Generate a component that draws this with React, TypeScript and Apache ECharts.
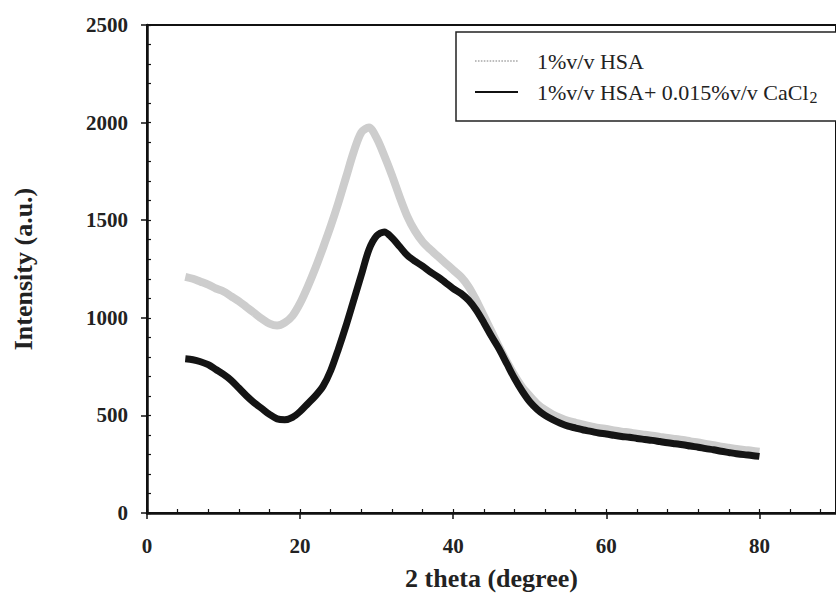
import React, { useEffect, useRef } from "react";
import * as echarts from "echarts";

const twoTheta = [
  5, 6, 7, 8, 9, 10, 11, 12, 13, 14, 15, 16, 17, 18, 19, 20, 21, 22, 23, 24, 25, 26, 27, 28, 29, 30,
  31, 32, 33, 34, 35, 36, 37, 38, 39, 40, 41, 42, 43, 44, 45, 46, 47, 48, 49, 50, 51, 52, 53, 54, 55,
  56, 57, 58, 59, 60, 61, 62, 63, 64, 65, 66, 67, 68, 69, 70, 71, 72, 73, 74, 75, 76, 77, 78, 79, 80,
];

const hsa = [
  1210, 1200, 1185, 1170, 1150, 1135, 1110, 1085, 1055, 1025, 995, 970, 960, 975, 1010, 1075, 1160,
  1255, 1360, 1470, 1590, 1720, 1850, 1950, 1975, 1920, 1830, 1730, 1620, 1520, 1445, 1390, 1350,
  1315, 1280, 1245, 1210, 1160, 1090, 1010, 930, 850, 775, 705, 645, 600, 558, 528, 505, 487, 472,
  462, 452, 444, 436, 430, 423, 417, 412, 406, 401, 396, 390, 384, 379, 374, 367, 361, 354, 348, 340,
  334, 328, 323, 319, 314,
];

const hsaCaCl2 = [
  790, 785, 775, 760, 735, 710, 680, 640, 600, 565, 535, 505, 482, 478, 490, 520, 560, 600, 650, 730,
  840, 960, 1090, 1220, 1350, 1420, 1440, 1410, 1365, 1320, 1290, 1265, 1235, 1210, 1180, 1150, 1125,
  1090, 1040, 975, 905, 840, 765, 690, 625, 570, 530, 500, 478, 460, 445, 435, 425, 418, 410, 405,
  398, 392, 388, 382, 377, 372, 366, 360, 355, 350, 343, 337, 330, 324, 316, 310, 304, 299, 295, 290,
];

const seriesNames = ["1%v/v HSA", "1%v/v HSA+ 0.015%v/v CaCl2"];
const xAxisTitle = "2 theta (degree)";
const yAxisTitle = "Intensity (a.u.)";

const FONT = "'Liberation Serif', 'Times New Roman', serif";

const dottedIcon =
  "path://" +
  Array.from({ length: 15 }, (_, i) => `M${i * 3},0h1.6v2h-1.6z`).join(" ") +
  " M44,0h0.01v2h-0.01z";
const solidIcon = "path://M0,0h44v2h-44z";

export default function App() {
  const ref = useRef<HTMLDivElement>(null);
  useEffect(() => {
    if (!ref.current) return;
    const chart = echarts.init(ref.current, undefined, { renderer: "svg" });
    const pair = (ys: number[]) => twoTheta.map((x, i) => [x, ys[i]]);
    chart.setOption({
      animation: false,
      backgroundColor: "#ffffff",
      grid: {
        left: 147,
        top: 25,
        right: -11,
        bottom: 95,
        show: true,
        borderColor: "#111",
        borderWidth: 2,
        backgroundColor: "transparent",
      },
      legend: {
        orient: "vertical",
        left: 456,
        top: 32,
        padding: [16, 40, 16, 19],
        itemGap: 5,
        itemWidth: 43,
        itemHeight: 2,
        borderColor: "#222",
        borderWidth: 1.5,
        backgroundColor: "#fff",
        textStyle: {
          fontFamily: FONT,
          fontSize: 22,
          color: "#222",
          lineHeight: 26,
          rich: {
            n: { fontFamily: FONT, fontSize: 22, lineHeight: 26, color: "#222", padding: [0, 0, 0, 14] },
            s: { fontFamily: FONT, fontSize: 16, lineHeight: 16, color: "#222", verticalAlign: "bottom", padding: [7, 0, 0, 1] },
          },
        },
        formatter: (name: string) => {
          if (name.endsWith("CaCl2")) {
            return "{n|" + name.slice(0, -1) + "}{s|2}";
          }
          return "{n|" + name + "}";
        },
        data: [
          { name: seriesNames[0], icon: dottedIcon, itemStyle: { color: "#bdbdbd" } },
          { name: seriesNames[1], icon: solidIcon, itemStyle: { color: "#111" } },
        ],
      },
      xAxis: [
        {
          type: "value",
          min: 0,
          max: 90,
          interval: 20,
          name: xAxisTitle,
          nameLocation: "middle",
          nameGap: 52,
          nameTextStyle: { fontFamily: FONT, fontSize: 26, fontWeight: "bold", color: "#222" },
          axisLine: { show: true, onZero: false, lineStyle: { color: "#111", width: 2.5 } },
          axisTick: { show: true, inside: false, length: 6, lineStyle: { color: "#111", width: 1.5 } },
          axisLabel: {
            showMaxLabel: false,
            margin: 22,
            fontFamily: FONT,
            fontSize: 21,
            fontWeight: "bold",
            color: "#222",
          },
          splitLine: { show: false },
        },
        {
          type: "value",
          min: 0,
          max: 90,
          interval: 4,
          position: "bottom",
          axisLine: { show: false },
          axisTick: { show: true, inside: true, length: 4, lineStyle: { color: "#111", width: 1.2 } },
          axisLabel: { show: false },
          splitLine: { show: false },
        },
      ],
      yAxis: [
        {
          type: "value",
          min: 0,
          max: 2500,
          interval: 500,
          name: yAxisTitle,
          nameLocation: "middle",
          nameGap: 111,
          nameTextStyle: { fontFamily: FONT, fontSize: 26, fontWeight: "bold", color: "#222" },
          axisLine: { show: true, onZero: false, lineStyle: { color: "#111", width: 2.5 } },
          axisTick: { show: true, inside: false, length: 6, lineStyle: { color: "#111", width: 1.5 } },
          axisLabel: {
            margin: 19,
            fontFamily: FONT,
            fontSize: 21,
            fontWeight: "bold",
            color: "#222",
            formatter: (v: number) => String(v),
          },
          splitLine: { show: false },
        },
        {
          type: "value",
          min: 0,
          max: 2500,
          interval: 100,
          position: "left",
          axisLine: { show: false },
          axisTick: { show: true, inside: true, length: 4, lineStyle: { color: "#111", width: 1.2 } },
          axisLabel: { show: false },
          splitLine: { show: false },
        },
      ],
      series: [
        {
          name: seriesNames[0],
          type: "line",
          data: pair(hsa),
          symbol: "none",
          smooth: 0.3,
          lineStyle: { color: "#cdcdcd", width: 8 },
          itemStyle: { color: "#bdbdbd" },
          z: 2,
        },
        {
          name: seriesNames[1],
          type: "line",
          data: pair(hsaCaCl2),
          symbol: "none",
          smooth: 0.3,
          lineStyle: { color: "#141414", width: 7 },
          itemStyle: { color: "#111" },
          z: 3,
        },
      ],
    });
    return () => chart.dispose();
  }, []);
  return (
    <div
      ref={ref}
      style={{ position: "fixed", left: 0, top: 0, width: 836, height: 608, background: "#fff" }}
    />
  );
}
